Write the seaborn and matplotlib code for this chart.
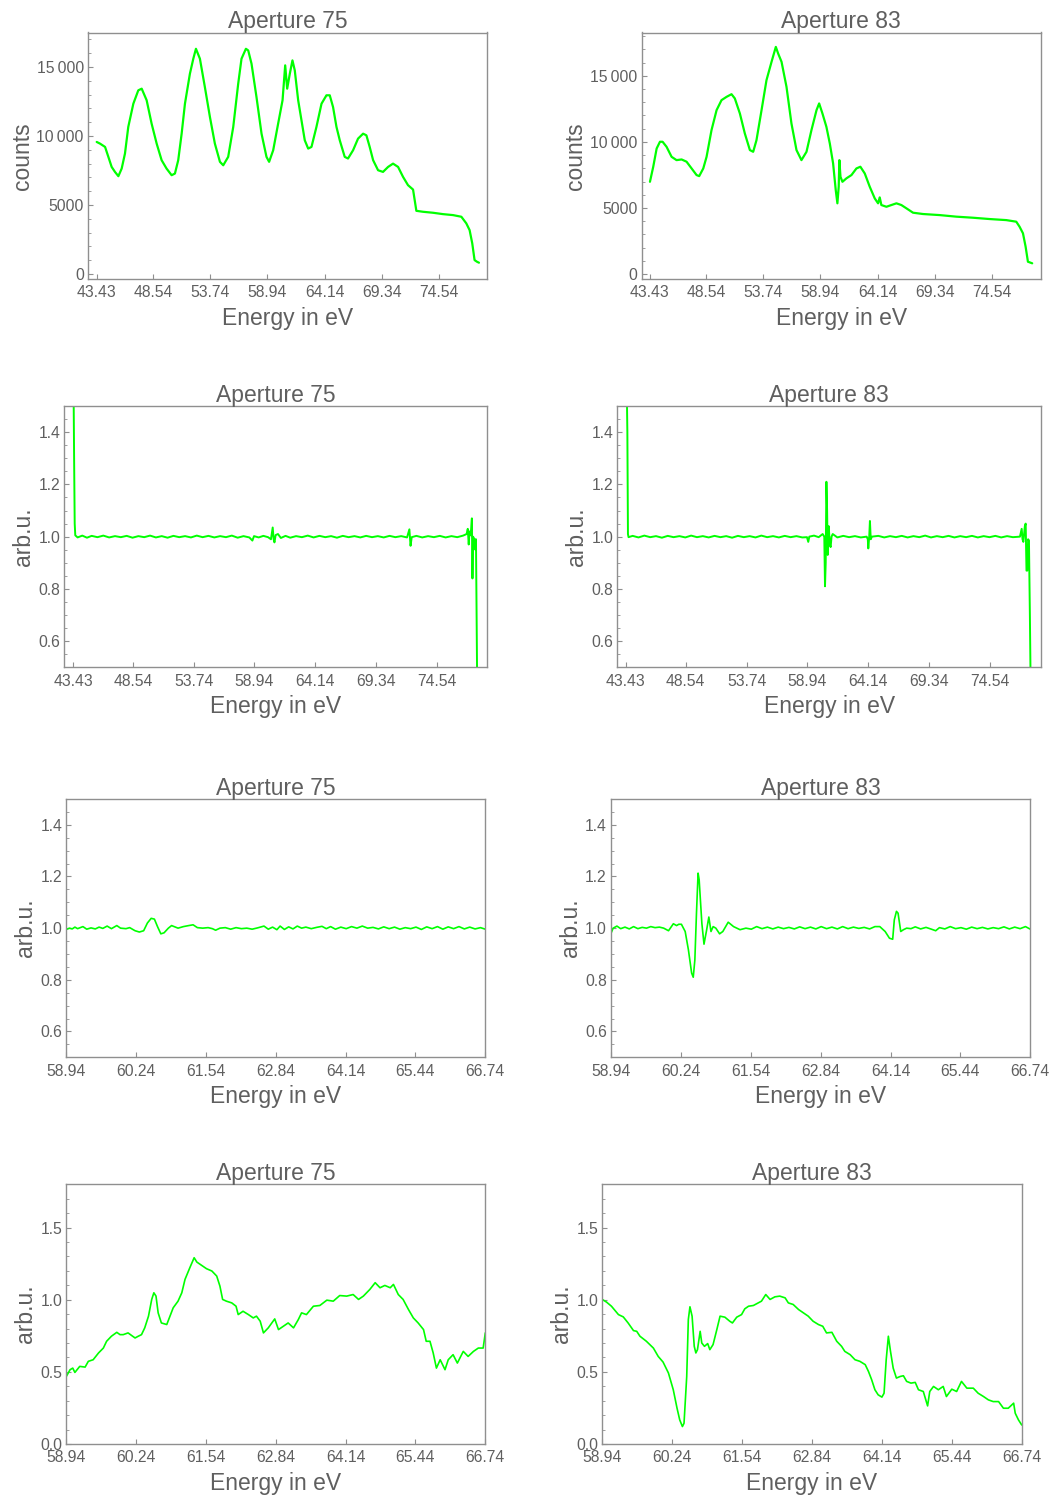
import numpy as np
import pandas as pd
import matplotlib
matplotlib.use("Agg")
import matplotlib.pyplot as plt
import seaborn as sns
from matplotlib.ticker import FixedLocator, MultipleLocator, NullLocator

# ---------------------------------------------------------------- data
# raw spectra (counts) over the full energy range
a75_raw_x = [43.43, 43.73, 44.19, 44.49, 44.79, 45.09, 45.40, 45.70, 46.00, 46.30, 46.76, 47.21, 47.52,
             47.97, 48.42, 48.88, 49.33, 49.78, 50.24, 50.54, 50.84, 51.15, 51.45, 51.90, 52.21, 52.45,
             52.81, 53.26, 53.72, 54.17, 54.63, 54.93, 55.38, 55.84, 56.29, 56.59, 56.99, 57.20, 57.50,
             57.95, 58.41, 58.86, 59.10, 59.47, 59.92, 60.32, 60.56, 60.74, 60.98, 61.22, 61.43, 61.74,
             62.04, 62.34, 62.65, 62.95, 63.40, 63.86, 64.31, 64.61, 64.91, 65.22, 65.52, 65.97, 66.27,
             66.73, 67.18, 67.64, 67.94, 68.24, 68.55, 69.00, 69.45, 69.91, 70.36, 70.82, 71.27, 71.72,
             72.18, 72.33, 72.48, 73.09, 73.99, 74.90, 75.81, 76.57, 77.02, 77.32, 77.56, 77.77, 77.99, 78.17]
a75_raw_y = [9570, 9450, 9210, 8490, 7760, 7400, 7090, 7640, 8730, 10660, 12340, 13310, 13430,
             12590, 10900, 9450, 8250, 7640, 7160, 7280, 8250, 10170, 12340, 14510, 15600, 16320,
             15600, 13550, 11380, 9450, 8130, 7880, 8490, 10660, 13790, 15600, 16320, 16200, 15240,
             12830, 10170, 8490, 8130, 8970, 10900, 12590, 15120, 13430, 14510, 15480, 14760, 12590,
             11140, 9690, 9090, 9210, 10660, 12340, 12950, 12950, 12100, 10660, 9690, 8490, 8370,
             8970, 9810, 10170, 10050, 9210, 8250, 7520, 7400, 7760, 8000, 7760, 7040, 6440,
             6120, 5350, 4580, 4510, 4440, 4340, 4270, 4150, 3670, 3180, 2220, 1010, 890, 820]

a83_raw_x = [43.43, 43.73, 44.04, 44.34, 44.58, 44.94, 45.40, 45.85, 46.31, 46.76, 47.22, 47.67, 47.91,
             48.28, 48.58, 49.03, 49.49, 49.94, 50.40, 50.85, 51.15, 51.61, 52.06, 52.52, 52.82, 53.12,
             53.58, 54.03, 54.49, 54.88, 55.09, 55.40, 55.85, 56.30, 56.76, 57.21, 57.67, 58.12, 58.58,
             58.82, 59.12, 59.48, 59.79, 60.09, 60.33, 60.48, 60.60, 60.66, 60.76, 60.94, 61.30, 61.76,
             62.21, 62.57, 62.97, 63.42, 63.88, 64.18, 64.33, 64.48, 64.94, 65.39, 65.85, 66.30, 66.76,
             67.36, 68.27, 69.78, 71.30, 72.81, 74.33, 75.84, 76.75, 77.05, 77.36, 77.60, 77.81, 78.20]
a83_raw_y = [6980, 8120, 9500, 10010, 10010, 9630, 8870, 8620, 8670, 8500, 7990, 7490, 7410,
             7990, 8870, 10890, 12400, 13160, 13410, 13610, 13290, 12150, 10640, 9380, 9250, 10130,
             12400, 14670, 16060, 17190, 16690, 16060, 14170, 11400, 9380, 8620, 9250, 10890, 12400,
             12910, 12150, 11140, 9880, 8370, 6350, 5350, 6610, 8620, 7360, 6980, 7240, 7490,
             7990, 8120, 7610, 6610, 5720, 5350, 5800, 5220, 5090, 5220, 5350, 5220, 4970,
             4640, 4540, 4460, 4340, 4260, 4160, 4080, 3960, 3580, 3080, 2070, 930, 810]

# ratio spectra over the full energy range
a75_full_x = [43.43, 43.50, 43.55, 43.60, 43.80, 44.20, 44.60, 45.00, 45.50, 46.00, 46.50, 47.00, 47.50,
              48.00, 48.50, 49.00, 49.50, 50.00, 50.50, 51.00, 51.50, 52.00, 52.50, 53.00, 53.50, 54.00,
              54.50, 55.00, 55.50, 56.00, 56.50, 57.00, 57.50, 58.00, 58.50, 58.76, 58.90, 59.30, 59.70,
              60.10, 60.35, 60.50, 60.58, 60.65, 60.75, 60.95, 61.20, 61.60, 62.00, 62.50, 63.00, 63.50,
              64.00, 64.50, 65.00, 65.50, 66.00, 66.50, 67.00, 67.50, 68.00, 68.50, 69.00, 69.50, 70.00,
              70.50, 71.00, 71.50, 72.00, 72.20, 72.30, 72.40, 72.80, 73.30, 73.80, 74.30, 74.80, 75.30,
              75.80, 76.30, 76.80, 77.10, 77.20, 77.28, 77.35, 77.45, 77.55, 77.60, 77.65, 77.78, 77.85,
              77.90, 78.00]
a75_full_y = [1.70, 1.30, 1.05, 1.005, 0.997, 1.004, 0.996, 1.003, 0.998, 1.004, 0.997, 1.002, 0.998,
              1.003, 0.996, 1.002, 0.998, 1.004, 0.997, 1.002, 0.996, 1.003, 0.998, 1.002, 0.997, 1.004,
              0.998, 1.003, 0.997, 1.002, 0.998, 1.004, 0.996, 1.002, 0.997, 0.985, 1.002, 0.997, 1.003,
              0.998, 0.990, 1.035, 0.990, 0.978, 1.006, 1.010, 0.995, 1.003, 0.996, 1.002, 0.998, 1.004,
              0.997, 1.003, 0.998, 1.002, 0.996, 1.003, 0.998, 1.002, 0.997, 1.003, 0.998, 1.002, 0.997,
              1.003, 0.998, 1.002, 0.997, 1.028, 0.965, 0.998, 1.003, 0.997, 1.002, 0.998, 1.003, 0.997,
              1.002, 0.998, 1.004, 1.010, 1.030, 0.970, 1.020, 1.005, 1.070, 0.840, 1.000, 0.990, 0.950,
              0.990, 0.450]

a83_full_x = [43.43, 43.55, 43.60, 43.65, 44.00, 44.50, 45.00, 45.50, 46.00, 46.50, 47.00, 47.50, 48.00,
              48.50, 49.00, 49.50, 50.00, 50.50, 51.00, 51.50, 52.00, 52.50, 53.00, 53.50, 54.00, 54.50,
              55.00, 55.50, 56.00, 56.50, 57.00, 57.50, 58.00, 58.50, 58.90, 59.01, 59.10, 59.50, 59.90,
              60.24, 60.38, 60.44, 60.50, 60.56, 60.62, 60.67, 60.72, 60.76, 60.85, 60.92, 61.00, 61.10,
              61.50, 62.00, 62.50, 63.00, 63.50, 64.00, 64.10, 64.14, 64.22, 64.28, 64.35, 64.45, 65.00,
              65.50, 66.00, 66.50, 67.00, 67.50, 68.00, 68.50, 69.00, 69.50, 70.00, 70.50, 71.00, 71.50,
              72.00, 72.50, 73.00, 73.50, 74.00, 74.50, 75.00, 75.50, 76.00, 76.50, 77.10, 77.25, 77.32,
              77.39, 77.52, 77.59, 77.66, 77.73, 77.80, 77.87, 77.95, 78.01]
a83_full_y = [1.80, 1.40, 1.010, 0.998, 1.003, 0.997, 1.004, 0.998, 1.002, 0.996, 1.003, 0.998, 1.002,
              0.997, 1.004, 0.998, 1.002, 0.997, 1.003, 0.998, 1.002, 0.996, 1.003, 0.998, 1.002, 0.997,
              1.004, 0.998, 1.002, 0.997, 1.003, 0.998, 1.002, 0.997, 0.998, 0.980, 1.000, 1.004, 0.998,
              1.010, 1.000, 0.810, 0.900, 1.210, 1.100, 0.930, 1.000, 1.040, 0.970, 0.960, 1.000, 1.010,
              0.997, 1.003, 0.998, 1.002, 0.997, 1.000, 0.990, 0.955, 1.000, 1.060, 0.990, 1.000, 1.003,
              0.997, 1.002, 0.998, 1.003, 0.997, 1.002, 0.998, 1.004, 0.997, 1.002, 0.998, 1.003, 0.997,
              1.002, 0.998, 1.003, 0.997, 1.002, 0.998, 1.003, 0.997, 1.002, 0.998, 1.000, 1.030, 0.990,
              0.980, 1.040, 1.050, 0.870, 0.870, 0.990, 0.985, 0.700, 0.450]

# ratio spectra, detail around 59-67 eV
a75_zoom_x = [58.94, 59.00, 59.05, 59.10, 59.15, 59.25, 59.32, 59.40, 59.48, 59.55, 59.62, 59.70, 59.78,
              59.88, 59.95, 60.05, 60.12, 60.22, 60.30, 60.38, 60.45, 60.52, 60.58, 60.64, 60.70, 60.76,
              60.84, 60.90, 60.96, 61.02, 61.12, 61.22, 61.30, 61.38, 61.48, 61.58, 61.66, 61.72, 61.80,
              61.90, 62.00, 62.10, 62.20, 62.30, 62.40, 62.50, 62.62, 62.70, 62.78, 62.86, 62.92, 63.00,
              63.08, 63.16, 63.24, 63.32, 63.40, 63.50, 63.60, 63.70, 63.78, 63.86, 63.95, 64.05, 64.15,
              64.25, 64.35, 64.45, 64.55, 64.65, 64.75, 64.85, 64.95, 65.05, 65.15, 65.25, 65.35, 65.45,
              65.55, 65.65, 65.75, 65.85, 65.95, 66.05, 66.15, 66.25, 66.35, 66.45, 66.55, 66.65, 66.74]
a75_zoom_y = [0.995, 1.000, 0.997, 1.004, 0.998, 1.006, 0.996, 1.001, 0.997, 1.004, 0.999, 1.008, 0.998,
              1.010, 1.000, 0.998, 1.002, 0.990, 0.985, 0.990, 1.020, 1.038, 1.035, 1.005, 0.978, 0.982,
              1.000, 1.010, 1.005, 1.000, 1.006, 1.010, 1.013, 1.002, 1.000, 1.002, 0.998, 0.992, 1.000,
              1.002, 0.996, 1.002, 0.998, 1.000, 0.996, 1.001, 1.008, 0.996, 1.004, 0.994, 1.008, 0.995,
              1.005, 0.997, 1.008, 1.000, 1.004, 0.998, 1.003, 1.007, 0.998, 1.006, 0.996, 1.004, 0.998,
              1.006, 1.000, 1.008, 1.000, 1.003, 0.997, 1.005, 0.998, 1.004, 0.996, 1.002, 0.998, 1.004,
              0.995, 1.005, 0.998, 1.006, 0.996, 1.005, 0.998, 1.006, 0.997, 1.004, 0.997, 1.002, 0.996]

a83_zoom_x = [58.94, 58.98, 59.05, 59.12, 59.20, 59.28, 59.36, 59.44, 59.52, 59.60, 59.68, 59.76, 59.84,
              59.92, 60.01, 60.06, 60.10, 60.16, 60.20, 60.25, 60.32, 60.38, 60.44, 60.47, 60.50, 60.53,
              60.56, 60.58, 60.63, 60.67, 60.72, 60.76, 60.80, 60.84, 60.89, 60.96, 61.02, 61.12, 61.22,
              61.34, 61.45, 61.55, 61.65, 61.75, 61.85, 61.95, 62.05, 62.15, 62.25, 62.35, 62.45, 62.55,
              62.65, 62.75, 62.85, 62.95, 63.05, 63.15, 63.25, 63.35, 63.45, 63.55, 63.65, 63.75, 63.85,
              63.94, 64.04, 64.12, 64.18, 64.21, 64.25, 64.28, 64.33, 64.38, 64.44, 64.52, 64.60, 64.70,
              64.80, 64.90, 64.98, 65.05, 65.15, 65.25, 65.35, 65.45, 65.55, 65.65, 65.75, 65.85, 65.95,
              66.05, 66.15, 66.25, 66.35, 66.45, 66.55, 66.65, 66.74]
a83_zoom_y = [0.980, 1.000, 1.008, 0.998, 1.004, 0.997, 1.006, 0.998, 1.003, 1.000, 1.006, 1.002, 1.004,
              1.000, 0.990, 1.005, 1.017, 1.010, 1.015, 1.015, 0.987, 0.916, 0.826, 0.810, 0.877, 1.058,
              1.213, 1.187, 1.019, 0.938, 0.994, 1.043, 0.987, 1.006, 1.000, 0.978, 0.987, 1.023, 1.006,
              0.994, 1.000, 0.996, 1.006, 0.998, 1.004, 0.997, 1.004, 0.998, 1.003, 0.997, 1.005, 0.998,
              1.004, 0.997, 1.006, 0.998, 1.004, 0.997, 1.006, 0.998, 1.004, 0.999, 1.003, 0.997, 1.006,
              1.006, 0.987, 0.961, 0.957, 1.032, 1.065, 1.058, 0.987, 0.994, 1.000, 0.998, 1.005, 0.997,
              1.003, 0.996, 0.990, 1.002, 0.997, 1.006, 0.998, 1.002, 0.996, 1.004, 0.998, 1.003, 0.997,
              1.002, 0.998, 1.005, 0.997, 1.004, 0.998, 1.006, 0.996]

# background-subtracted ratio, detail around 59-67 eV
a75_sub_x = [58.94, 59.01, 59.06, 59.10, 59.19, 59.29, 59.35, 59.44, 59.54, 59.63, 59.69, 59.78, 59.88,
             59.94, 60.00, 60.09, 60.16, 60.22, 60.28, 60.34, 60.40, 60.47, 60.53, 60.57, 60.61, 60.65,
             60.71, 60.81, 60.87, 60.93, 61.02, 61.09, 61.15, 61.24, 61.32, 61.37, 61.46, 61.55, 61.65,
             61.74, 61.80, 61.85, 61.92, 62.02, 62.10, 62.14, 62.23, 62.33, 62.42, 62.48, 62.55, 62.61,
             62.70, 62.82, 62.89, 62.98, 63.07, 63.17, 63.26, 63.32, 63.41, 63.54, 63.66, 63.79, 63.91,
             64.03, 64.16, 64.28, 64.38, 64.47, 64.59, 64.69, 64.78, 64.87, 64.97, 65.03, 65.12, 65.21,
             65.31, 65.40, 65.49, 65.59, 65.64, 65.71, 65.77, 65.83, 65.90, 65.99, 66.05, 66.14, 66.22,
             66.33, 66.42, 66.52, 66.61, 66.70, 66.74]
a75_sub_y = [0.468, 0.515, 0.526, 0.496, 0.538, 0.533, 0.573, 0.584, 0.631, 0.665, 0.712, 0.747, 0.774,
             0.758, 0.758, 0.770, 0.751, 0.735, 0.747, 0.758, 0.805, 0.886, 1.002, 1.048, 1.025, 0.909,
             0.839, 0.828, 0.886, 0.944, 0.990, 1.048, 1.141, 1.222, 1.291, 1.261, 1.238, 1.215, 1.199,
             1.164, 1.094, 1.002, 0.990, 0.978, 0.955, 0.897, 0.920, 0.897, 0.874, 0.886, 0.851, 0.770,
             0.805, 0.867, 0.793, 0.816, 0.839, 0.805, 0.863, 0.909, 0.897, 0.955, 0.960, 0.997, 0.990,
             1.029, 1.025, 1.036, 1.002, 1.025, 1.071, 1.118, 1.083, 1.099, 1.083, 1.106, 1.036, 1.002,
             0.932, 0.874, 0.839, 0.793, 0.712, 0.712, 0.631, 0.526, 0.584, 0.515, 0.584, 0.619, 0.561,
             0.642, 0.607, 0.642, 0.665, 0.665, 0.770]

a83_sub_x = [58.94, 59.02, 59.11, 59.24, 59.33, 59.42, 59.52, 59.58, 59.64, 59.76, 59.89, 59.98, 60.07,
             60.17, 60.26, 60.33, 60.38, 60.43, 60.46, 60.51, 60.54, 60.57, 60.61, 60.65, 60.68, 60.71,
             60.76, 60.79, 60.84, 60.90, 60.94, 61.00, 61.07, 61.13, 61.22, 61.31, 61.36, 61.44, 61.53,
             61.59, 61.66, 61.75, 61.84, 61.90, 61.98, 62.06, 62.15, 62.24, 62.34, 62.40, 62.49, 62.59,
             62.68, 62.77, 62.86, 62.96, 63.04, 63.11, 63.21, 63.30, 63.39, 63.45, 63.55, 63.64, 63.73,
             63.83, 63.89, 63.95, 64.01, 64.07, 64.14, 64.18, 64.22, 64.26, 64.30, 64.35, 64.41, 64.48,
             64.54, 64.60, 64.68, 64.76, 64.82, 64.91, 64.99, 65.03, 65.10, 65.19, 65.28, 65.34, 65.44,
             65.53, 65.62, 65.72, 65.84, 65.93, 66.03, 66.12, 66.21, 66.31, 66.40, 66.49, 66.59, 66.62,
             66.68, 66.74]
a83_sub_y = [1.002, 0.983, 0.955, 0.897, 0.881, 0.839, 0.786, 0.781, 0.747, 0.712, 0.665, 0.607, 0.568,
             0.492, 0.376, 0.248, 0.167, 0.121, 0.144, 0.468, 0.863, 0.951, 0.886, 0.677, 0.631, 0.654,
             0.781, 0.700, 0.677, 0.696, 0.654, 0.689, 0.793, 0.886, 0.879, 0.851, 0.839, 0.879, 0.897,
             0.937, 0.955, 0.960, 0.978, 0.990, 1.036, 1.002, 1.020, 1.025, 1.013, 0.978, 0.967, 0.932,
             0.909, 0.886, 0.851, 0.828, 0.816, 0.770, 0.774, 0.712, 0.677, 0.642, 0.619, 0.584, 0.573,
             0.550, 0.503, 0.445, 0.376, 0.341, 0.325, 0.352, 0.584, 0.747, 0.642, 0.526, 0.457, 0.468,
             0.473, 0.434, 0.422, 0.427, 0.376, 0.364, 0.264, 0.364, 0.399, 0.376, 0.399, 0.329, 0.380,
             0.364, 0.434, 0.387, 0.387, 0.352, 0.329, 0.306, 0.294, 0.294, 0.248, 0.248, 0.283, 0.213,
             0.167, 0.132]

# axis labels and ticks
titles = ["Aperture 75", "Aperture 83"]
xlabel = "Energy in eV"
ylabel_counts = "counts"
ylabel_ratio = "arb.u."
xticks_full = ["43.43", "48.54", "53.74", "58.94", "64.14", "69.34", "74.54"]
xticks_zoom = ["58.94", "60.24", "61.54", "62.84", "64.14", "65.44", "66.74"]
yticks_counts = [0, 5000, 10000, 15000]
yticklabels_counts = ["0", "5000", "10\u2009000", "15\u2009000"]
yticks_ratio = [0.6, 0.8, 1.0, 1.2, 1.4]
yticks_sub = [0.0, 0.5, 1.0, 1.5]

# ---------------------------------------------------------------- style
sns.set_theme(style="white")
plt.rcParams["font.family"] = ["Liberation Sans", "DejaVu Sans"]

FRAME = "#8f8f8f"
TEXT = "#5f5f5f"
GREEN = "#00ff00"

W, H = 1051, 1499
fig = plt.figure(figsize=(W / 100, H / 100), dpi=100)
fig.patch.set_facecolor("white")


def make_axes(left, right, top, bottom):
    return fig.add_axes([left / W, 1 - bottom / H, (right - left) / W, (bottom - top) / H])


panels = [
    # (x, y, frame px, xlim, ylim, xticks, ylabel, kind, title, lw)
    (a75_raw_x, a75_raw_y, (88, 487, 32.5, 279), (42.64, 78.9), (-360, 17500), xticks_full, ylabel_counts, "counts", titles[0], 1.6),
    (a83_raw_x, a83_raw_y, (641.7, 1041, 32.5, 279), (42.68, 79.0), (-378, 18280), xticks_full, ylabel_counts, "counts", titles[1], 1.6),
    (a75_full_x, a75_full_y, (64.3, 487.3, 406, 667.3), (42.66, 78.87), (0.5, 1.5), xticks_full, ylabel_ratio, "ratio", titles[0], 1.4),
    (a83_full_x, a83_full_y, (617.3, 1041, 406, 667.3), (42.69, 78.9), (0.5, 1.5), xticks_full, ylabel_ratio, "ratio", titles[1], 1.4),
    (a75_zoom_x, a75_zoom_y, (66.3, 485.3, 799, 1057.3), (58.94, 66.74), (0.5, 1.5), xticks_zoom, ylabel_ratio, "ratio", titles[0], 1.2),
    (a83_zoom_x, a83_zoom_y, (611, 1030.3, 799, 1057.3), (58.94, 66.74), (0.5, 1.5), xticks_zoom, ylabel_ratio, "ratio", titles[1], 1.2),
    (a75_sub_x, a75_sub_y, (66.3, 485.3, 1184.3, 1444), (58.94, 66.74), (0.0, 1.8), xticks_zoom, ylabel_ratio, "sub", titles[0], 1.2),
    (a83_sub_x, a83_sub_y, (602.3, 1021.7, 1184.3, 1444), (58.94, 66.74), (0.0, 1.8), xticks_zoom, ylabel_ratio, "sub", titles[1], 1.2),
]

for xs, ys, frame, xlim, ylim, xt, ylab, kind, title, lw in panels:
    ax = make_axes(*frame)
    df = pd.DataFrame({"E": xs, "v": ys})
    sns.lineplot(data=df, x="E", y="v", ax=ax, color=GREEN, linewidth=lw,
                 estimator=None, sort=False, legend=False)
    ax.set_xlim(*xlim)
    ax.set_ylim(*ylim)

    ax.xaxis.set_major_locator(FixedLocator([float(t) for t in xt]))
    ax.set_xticklabels(xt)
    ax.xaxis.set_minor_locator(NullLocator())

    if kind == "counts":
        ax.yaxis.set_major_locator(FixedLocator(yticks_counts))
        ax.set_yticklabels(yticklabels_counts)
        ax.yaxis.set_minor_locator(MultipleLocator(1000))
    elif kind == "ratio":
        ax.yaxis.set_major_locator(FixedLocator(yticks_ratio))
        ax.set_yticklabels([f"{t:.1f}" for t in yticks_ratio])
        ax.yaxis.set_minor_locator(MultipleLocator(0.05))
    else:
        ax.yaxis.set_major_locator(FixedLocator(yticks_sub))
        ax.set_yticklabels([f"{t:.1f}" for t in yticks_sub])
        ax.yaxis.set_minor_locator(MultipleLocator(0.1))

    for s in ax.spines.values():
        s.set_visible(True)
        s.set_color(FRAME)
        s.set_linewidth(1.0)

    ax.tick_params(which="major", direction="in", length=3.5, width=0.8, color=FRAME,
                   labelcolor=TEXT, labelsize=11.3, pad=3, top=False, right=False,
                   bottom=True, left=True)
    ax.tick_params(axis="x", which="major", pad=4.5)
    ax.tick_params(which="minor", direction="in", length=2, width=0.6, color=FRAME,
                   top=False, right=False, bottom=False, left=True)

    ax.set_title(title, fontsize=16.5, color=TEXT, pad=3)
    ax.set_xlabel(xlabel, fontsize=16.5, color=TEXT, labelpad=5)
    ax.set_ylabel(ylab, fontsize=16.5, color=TEXT, labelpad=2)
    ax.grid(False)
    ax.set_facecolor("white")

fig.savefig("out.png", dpi=100, facecolor="white")
